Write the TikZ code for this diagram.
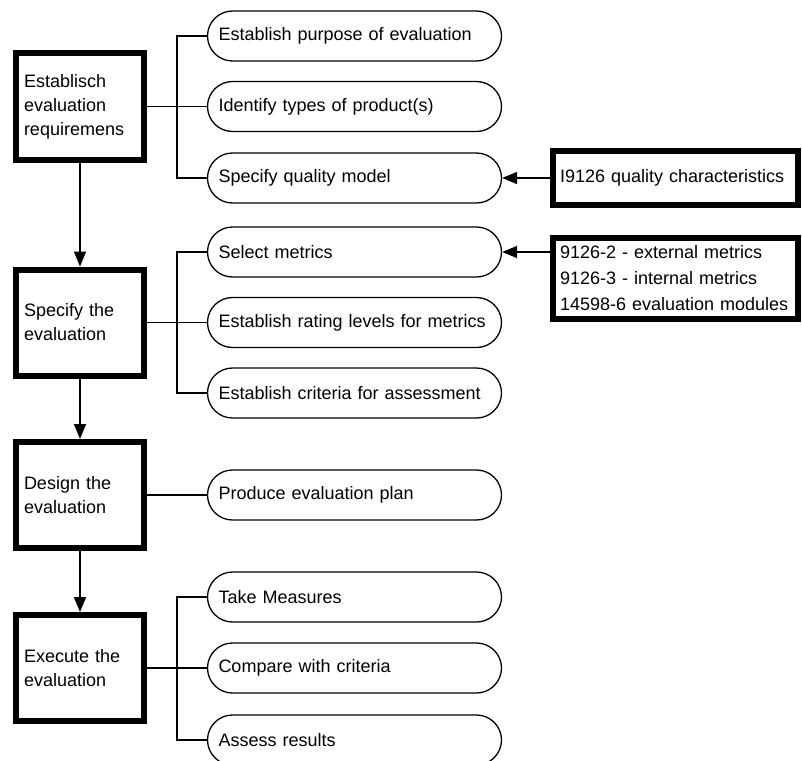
\documentclass[tikz,border=0pt]{standalone}
\usepackage{fontspec}
\setmainfont{Liberation Sans}
\usetikzlibrary{arrows.meta}
\begin{document}
\begin{tikzpicture}[x=1pt,y=-1pt,
  font=\fontsize{18}{24}\selectfont,
  stage/.style={draw, line width=6pt, rectangle, minimum width=128pt,
    minimum height=106pt, text width=112pt, inner xsep=8pt, align=left},
  task/.style={draw, line width=1.3pt, rectangle, rounded corners=25pt,
    minimum width=294pt, minimum height=50pt, text width=272pt,
    inner xsep=11pt, align=left},
  source/.style={draw, line width=6pt, rectangle, minimum width=245pt,
    text width=231pt, inner xsep=7pt, align=left},
  link/.style={line width=1.6pt},
  flow/.style={line width=1.6pt, -{Triangle[length=15pt,width=12pt]}},
]
\useasboundingbox (0,0) rectangle (802,760);

% main process stages
\node[stage] (b1) at (80,106.5) {Establisch\\evaluation\\requiremens};
\node[stage] (b2) at (80,322.5) {Specify the\\evaluation};
\node[stage] (b3) at (80,495) {Design the\\evaluation};
\node[stage] (b4) at (80,668) {Execute the\\evaluation};

% activities of each stage
\node[task] (p1) at (354.5,36) {Establish purpose of evaluation};
\node[task] (p2) at (354.5,106.5) {Identify types of product(s)};
\node[task] (p3) at (354.5,178) {Specify quality model};
\node[task] (p4) at (354.5,252) {Select metrics};
\node[task] (p5) at (354.5,322.5) {Establish rating levels for metrics};
\node[task] (p6) at (354.5,393) {Establish criteria for assessment};
\node[task] (p7) at (354.5,495) {Produce evaluation plan};
\node[task] (p8) at (354.5,597) {Take Measures};
\node[task] (p9) at (354.5,668) {Compare with criteria};
\node[task] (p10) at (354.5,740) {Assess results};

% input documents
\node[source, minimum height=54pt] (r1) at (675.5,178) {I9126 quality characteristics};
\node[source, minimum height=81pt, font=\fontsize{18}{26}\selectfont] (r2) at (675.5,278.5)
  {9126-2 - external metrics\\9126-3 - internal metrics\\14598-6 evaluation modules};

% stage sequence
\draw[flow] (b1) -- (b2);
\draw[flow] (b2) -- (b3);
\draw[flow] (b3) -- (b4);

% brackets joining stages to their activities
\draw[link] (p1.west) -- ++(-30,0) |- (p3.west);
\draw[link] (b1.east) -- (p2.west);
\draw[link] (p4.west) -- ++(-30,0) |- (p6.west);
\draw[link] (b2.east) -- (p5.west);
\draw[link] (b3.east) -- (p7.west);
\draw[link] (p8.west) -- ++(-30,0) |- (p10.west);
\draw[link] (b4.east) -- (p9.west);

% inputs feeding the activities
\draw[flow] (r1) -- (p3);
\draw[flow] (r2.west |- p4.east) -- (p4.east);
\end{tikzpicture}
\end{document}
